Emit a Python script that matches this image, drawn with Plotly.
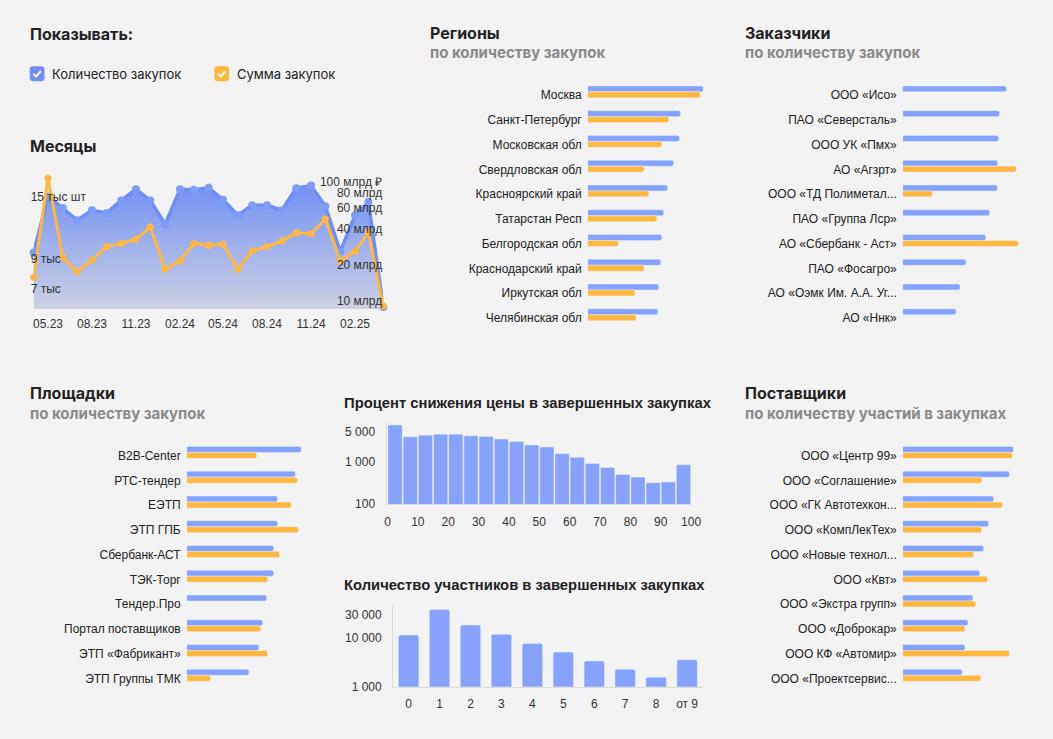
import plotly.graph_objects as go

W, H = 1053, 739

BLUE = "#86a2fc"
ORANGE = "#ffb83f"
LINE_BLUE = "#6f8ef6"
BG = "#f3f3f3"
TXT = "#222222"
GREY = "#8a8a8a"
AXIS = "#dcdcdc"

# --- data -------------------------------------------------------------
months = ["2023-04-01", "2023-05-01", "2023-06-01", "2023-07-01", "2023-08-01",
          "2023-09-01", "2023-10-01", "2023-11-01", "2023-12-01", "2024-01-01",
          "2024-02-01", "2024-03-01", "2024-04-01", "2024-05-01", "2024-06-01",
          "2024-07-01", "2024-08-01", "2024-09-01", "2024-10-01", "2024-11-01",
          "2024-12-01", "2025-01-01", "2025-02-01", "2025-03-01", "2025-04-01"]
month_count = [9460, 15000, 13640, 12340, 13390, 13100, 14520, 15920, 14520, 11910,
               15920, 15850, 16100, 14600, 12850, 13950, 13950, 13390, 16050, 16400,
               13830, 9540, 12850, 14320, 6050]
month_sum = [15.8, 106.6, 23.2, 17.6, 22.0, 28.6, 30.4, 32.9, 41.6, 18.5,
             21.7, 30.4, 29.3, 29.9, 18.5, 26.3, 28.6, 31.8, 37.3, 36.6,
             48.7, 21.7, 26.0, 37.8, 9.1]
count_ticks = [7000, 9000, 15000]
count_labels = ["7 тыс", "9 тыс", "15 тыс шт"]
sum_ticks = [10, 20, 40, 60, 80, 100]
sum_labels = ["10 млрд", "20 млрд", "40 млрд", "60 млрд", "80 млрд", "100 млрд ₽"]

regions = ["Москва", "Санкт-Петербург", "Московская обл", "Свердловская обл",
           "Красноярский край", "Татарстан Респ", "Белгородская обл",
           "Краснодарский край", "Иркутская обл", "Челябинская обл"]
regions_count = [117, 94, 93, 87, 81, 77, 75, 74, 72, 71]
regions_sum = [114, 82, 75, 57, 62, 70, 31, 57, 48, 49]

customers = ["ООО «Исо»", "ПАО «Северсталь»", "ООО УК «Пмх»", "АО «Агзрт»",
             "ООО «ТД Полиметал...", "ПАО «Группа Лср»", "АО «Сбербанк - Аст»",
             "ПАО «Фосагро»", "АО «Оэмк Им. А.А. Уг...", "АО «Ннк»"]
customers_count = [105, 98, 97, 96, 96, 88, 84, 64, 58, 54]
customers_sum = [0, 0, 0, 115, 30, 0, 117, 0, 0, 0]

platforms = ["B2B-Center", "РТС-тендер", "ЕЭТП", "ЭТП ГПБ", "Сбербанк-АСТ",
             "ТЭК-Торг", "Тендер.Про", "Портал поставщиков", "ЭТП «Фабрикант»",
             "ЭТП Группы ТМК"]
platforms_count = [116, 110, 92, 92, 88, 88, 81, 77, 73, 63]
platforms_sum = [71, 112, 106, 113, 94, 82, 0, 75, 82, 24]

suppliers = ["ООО «Центр 99»", "ООО «Соглашение»", "ООО «ГК Автотехкон...",
             "ООО «КомпЛекТех»", "ООО «Новые технол...", "ООО «Квт»",
             "ООО «Экстра групп»", "ООО «Доброкар»", "ООО КФ «Автомир»",
             "ООО «Проектсервис..."]
suppliers_count = [112, 108, 92, 87, 82, 78, 71, 66, 63, 60]
suppliers_sum = [111, 80, 101, 80, 72, 86, 74, 63, 108, 79]

discount_bins = [0, 5, 10, 15, 20, 25, 30, 35, 40, 45,
                 50, 55, 60, 65, 70, 75, 80, 85, 90, 95]
discount_counts = [7250, 3810, 4170, 4400, 4400, 4020, 3890, 3370, 2970, 2440,
                   2190, 1535, 1260, 898, 725, 499, 432, 319, 331, 837]
discount_ticks = [100, 1000, 5000]
discount_labels = ["100", "1 000", "5 000"]

participants = ["0", "1", "2", "3", "4", "5", "6", "7", "8", "от 9"]
participants_counts = [11500, 38100, 18300, 11870, 7680, 5120, 3370, 2280, 1570, 3580]
participants_ticks = [1000, 10000, 30000]
participants_labels = ["1 000", "10 000", "30 000"]


def px_x(x):
    return x / W


def px_y(y):
    return 1 - y / H


def dom_x(a, b):
    return [px_x(a), px_x(b)]


def dom_y(top, bottom):
    return [px_y(bottom), px_y(top)]


fig = go.Figure()

# --- months ---------------------------------------------------------------
fig.add_trace(go.Scatter(
    x=months, y=month_count, xaxis="x", yaxis="y", mode="lines+markers",
    line=dict(color=LINE_BLUE, width=3.5),
    marker=dict(color="#7f9cf8", size=8),
    fill="tozeroy",
    fillgradient=dict(type="vertical", start=5950, stop=17000,
                      colorscale=[[0, "#cdd1e1"], [1, "#7290f5"]]),
    cliponaxis=False, showlegend=False, hoverinfo="skip"))
fig.add_trace(go.Scatter(
    x=months, y=month_sum, xaxis="x", yaxis="y2", mode="lines+markers",
    line=dict(color=ORANGE, width=3),
    marker=dict(color=ORANGE, size=7),
    cliponaxis=False, showlegend=False, hoverinfo="skip"))


# --- horizontal bar panels --------------------------------------------------
def add_hbars(cats, counts, sums, xa, ya):
    fig.add_trace(go.Bar(
        y=cats, x=counts, orientation="h", xaxis=xa, yaxis=ya,
        offset=-0.37, width=0.24, marker=dict(color=BLUE, cornerradius=2),
        showlegend=False, hoverinfo="skip"))
    fig.add_trace(go.Bar(
        y=cats, x=sums, orientation="h", xaxis=xa, yaxis=ya,
        offset=-0.13, width=0.24, marker=dict(color=ORANGE, cornerradius=2),
        showlegend=False, hoverinfo="skip"))


add_hbars(regions, regions_count, regions_sum, "x2", "y3")
add_hbars(customers, customers_count, customers_sum, "x3", "y4")
add_hbars(platforms, platforms_count, platforms_sum, "x4", "y5")
add_hbars(suppliers, suppliers_count, suppliers_sum, "x5", "y6")

# --- histogram of price reduction -------------------------------------------
fig.add_trace(go.Bar(
    x=discount_bins, y=discount_counts, xaxis="x6", yaxis="y7",
    offset=0.15, width=4.7, marker=dict(color=BLUE, cornerradius=1),
    showlegend=False, hoverinfo="skip"))

# --- participants --------------------------------------------------------------
fig.add_trace(go.Bar(
    x=participants, y=participants_counts, xaxis="x7", yaxis="y8",
    width=0.66, marker=dict(color=BLUE, cornerradius=2),
    showlegend=False, hoverinfo="skip"))

tickfont = dict(size=12, color="#333333", family="Liberation Sans, Arial")


def hbar_axes(x0, top, y_id):
    xa = dict(domain=dom_x(x0, x0 + 130), range=[0, 130], visible=False,
              anchor=y_id, fixedrange=True)
    ya = dict(domain=dom_y(top - 12.5, top + 9 * 25 + 12.5), type="category",
              autorange="reversed", showgrid=False, zeroline=False, showline=False,
              ticks="", ticklabelstandoff=5, tickfont=dict(size=12, color=TXT))
    return xa, ya


xa2, ya3 = hbar_axes(592, 96, "y3")
xa3, ya4 = hbar_axes(911, 96, "y4")
xa4, ya5 = hbar_axes(186, 460, "y5")
xa5, ya6 = hbar_axes(911, 460, "y6")
ya3["anchor"] = "x2"
ya4["anchor"] = "x3"
ya5["anchor"] = "x4"
ya6["anchor"] = "x5"

fig.update_layout(
    autosize=True,
    margin=dict(l=0, r=0, t=0, b=0),
    paper_bgcolor=BG, plot_bgcolor=BG,
    font=dict(family="Liberation Sans, Arial", size=12, color=TXT),
    barmode="overlay",
    xaxis=dict(domain=dom_x(31, 385), type="date", anchor="y",
               range=["2023-04-01", "2025-04-01"],
               tick0="2023-05-01", dtick="M3", tickformat="%m.%y",
               showgrid=False, zeroline=False, showline=False,
               ticks="", ticklabelstandoff=6, tickfont=tickfont),
    # count axis: labels drawn over the left part of the plot
    yaxis=dict(domain=dom_y(175, 312), type="log", anchor="free",
               position=px_x(27), side="right",
               range=[3.7744, 4.2585],
               tickvals=count_ticks, ticktext=count_labels, ticks="",
               showgrid=False, zeroline=False, showline=False, tickfont=tickfont),
    # sum axis: labels drawn over the right part of the plot
    yaxis2=dict(overlaying="y", side="left", type="log", anchor="free",
                position=px_x(384),
                range=[0.9337, 2.0688],
                tickvals=sum_ticks, ticktext=sum_labels, ticks="",
                showgrid=False, zeroline=False, showline=False, tickfont=tickfont),
    xaxis2=xa2, yaxis3=ya3,
    xaxis3=xa3, yaxis4=ya4,
    xaxis4=xa4, yaxis5=ya5,
    xaxis5=xa5, yaxis6=ya6,
    xaxis6=dict(domain=dom_x(389.3, 696.7), anchor="y7", range=[0, 100],
                tickvals=[0, 10, 20, 30, 40, 50, 60, 70, 80, 90, 100],
                showgrid=False, zeroline=False, showline=True, linecolor=AXIS,
                ticks="", ticklabelstandoff=6, tickfont=tickfont),
    yaxis7=dict(domain=dom_y(427.3, 509), anchor="x6", type="log", range=[2, 3.9],
                tickvals=discount_ticks, ticktext=discount_labels,
                showgrid=False, zeroline=False, showline=True, linecolor=AXIS,
                ticks="", ticklabelstandoff=9, tickfont=tickfont),
    xaxis7=dict(domain=dom_x(395, 708.3), anchor="y8", type="category",
                range=[-0.5, 9.5],
                showgrid=False, zeroline=False, showline=True, linecolor=AXIS,
                ticks="", ticklabelstandoff=6, tickfont=tickfont),
    yaxis8=dict(domain=dom_y(610.7, 693.3), anchor="x7", type="log", range=[3, 4.676],
                tickvals=participants_ticks, ticktext=participants_labels,
                showgrid=False, zeroline=False, showline=True, linecolor=AXIS,
                ticks="", ticklabelstandoff=8, tickfont=tickfont),
)

# --- titles -------------------------------------------------------------------
HEAD = "Inter, Roboto, sans-serif"


def label(text, x, y, size=16, color=TXT, bold=True, family=HEAD):
    fig.add_annotation(
        text=f"<b>{text}</b>" if bold else text,
        x=px_x(x - 2), y=px_y(y), xref="paper", yref="paper",
        xanchor="left", yanchor="middle", showarrow=False,
        font=dict(size=size, color=color, family=family))


label("Показывать:", 27, 34)
label("Месяцы", 27, 147)
label("Регионы", 432, 33)
label("по количеству закупок", 432, 53, size=15, color=GREY)
label("Заказчики", 751, 33)
label("по количеству закупок", 751, 53, size=15, color=GREY)
label("Площадки", 27, 397)
label("по количеству закупок", 27, 417, size=15, color=GREY)
label("Поставщики", 751, 397)
label("по количеству участий в закупках", 751, 417, size=15, color=GREY)
label("Процент снижения цены в завершенных закупках", 345, 407, size=14.8,
      family="Liberation Sans, Arial")
label("Количество участников в завершенных закупках", 345, 591, size=14.8,
      family="Liberation Sans, Arial")


# --- "checkbox" legend ----------------------------------------------------------------
def box_path(x0, y0, s, r):
    pts = [
        f"M{px_x(x0 + r)},{px_y(y0)}",
        f"L{px_x(x0 + s - r)},{px_y(y0)}",
        f"Q{px_x(x0 + s)},{px_y(y0)} {px_x(x0 + s)},{px_y(y0 + r)}",
        f"L{px_x(x0 + s)},{px_y(y0 + s - r)}",
        f"Q{px_x(x0 + s)},{px_y(y0 + s)} {px_x(x0 + s - r)},{px_y(y0 + s)}",
        f"L{px_x(x0 + r)},{px_y(y0 + s)}",
        f"Q{px_x(x0)},{px_y(y0 + s)} {px_x(x0)},{px_y(y0 + s - r)}",
        f"L{px_x(x0)},{px_y(y0 + r)}",
        f"Q{px_x(x0)},{px_y(y0)} {px_x(x0 + r)},{px_y(y0)}",
        "Z",
    ]
    return " ".join(pts)


def check_path(x0, y0):
    return (f"M{px_x(x0 + 3.8)},{px_y(y0 + 7.6)} "
            f"L{px_x(x0 + 6.5)},{px_y(y0 + 10.3)} "
            f"L{px_x(x0 + 11.3)},{px_y(y0 + 4.8)}")


for bx, col, txt in [(27, "#6f8ef6", "Количество закупок"),
                     (214, ORANGE, "Сумма закупок")]:
    fig.add_shape(type="path", path=box_path(bx, 67, 15, 3.5), xref="paper", yref="paper",
                  fillcolor=col, line=dict(width=0), layer="above")
    fig.add_shape(type="path", path=check_path(bx, 67), xref="paper", yref="paper",
                  line=dict(color="white", width=2), layer="above")
    label(txt, bx + 23, 74.5, size=13, bold=False)

fig.write_html("out.html", config={"displayModeBar": False, "responsive": True},
               default_width="100vw", default_height="100vh",
               post_script="document.body.style.margin='0';document.body.style.overflow='hidden';"
                           "document.body.style.background='#f3f3f3';")
